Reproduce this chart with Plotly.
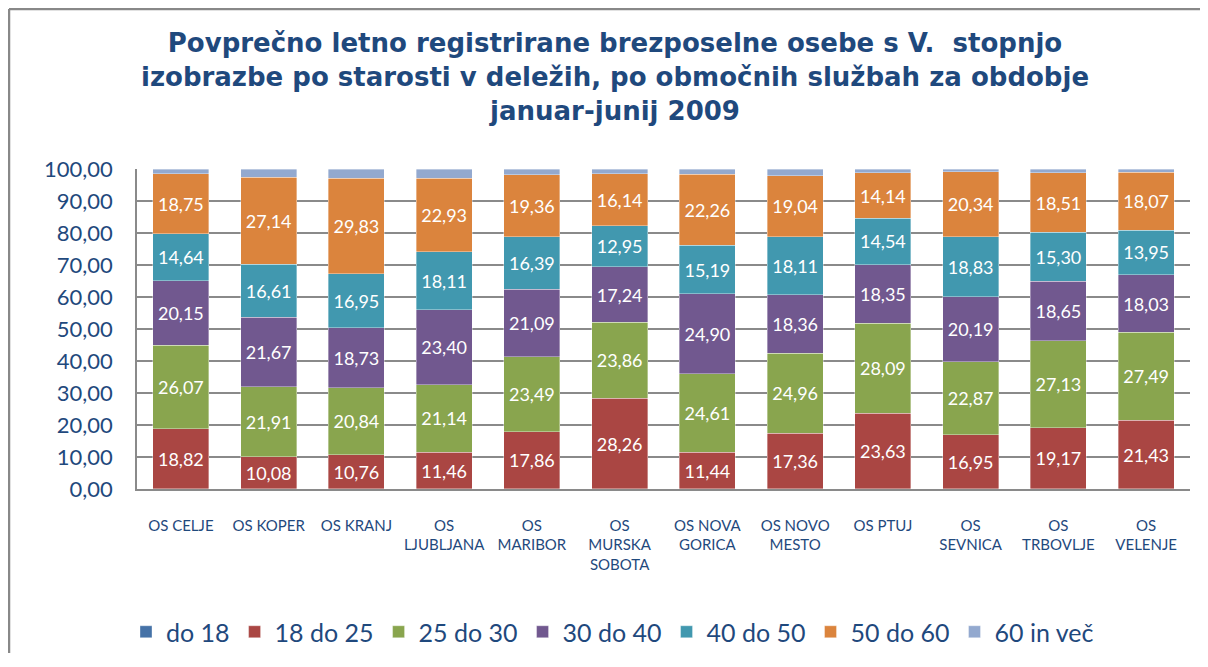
import plotly.graph_objects as go

categories = ["OS CELJE", "OS KOPER", "OS KRANJ", "OS<br>LJUBLJANA", "OS<br>MARIBOR",
              "OS<br>MURSKA<br>SOBOTA", "OS NOVA<br>GORICA", "OS NOVO<br>MESTO", "OS PTUJ",
              "OS<br>SEVNICA", "OS<br>TRBOVLJE", "OS<br>VELENJE"]

do_18 = [0.03, 0.02, 0.02, 0.03, 0.03, 0.03, 0.02, 0.03, 0.02, 0.02, 0.02, 0.02]
s18_25 = [18.82, 10.08, 10.76, 11.46, 17.86, 28.26, 11.44, 17.36, 23.63, 16.95, 19.17, 21.43]
s25_30 = [26.07, 21.91, 20.84, 21.14, 23.49, 23.86, 24.61, 24.96, 28.09, 22.87, 27.13, 27.49]
s30_40 = [20.15, 21.67, 18.73, 23.40, 21.09, 17.24, 24.90, 18.36, 18.35, 20.19, 18.65, 18.03]
s40_50 = [14.64, 16.61, 16.95, 18.11, 16.39, 12.95, 15.19, 18.11, 14.54, 18.83, 15.30, 13.95]
s50_60 = [18.75, 27.14, 29.83, 22.93, 19.36, 16.14, 22.26, 19.04, 14.14, 20.34, 18.51, 18.07]
s60_plus = [1.54, 2.57, 2.87, 2.93, 1.78, 1.52, 1.58, 2.14, 1.23, 0.80, 1.22, 1.01]

series = [
    ("do 18", do_18, "#4572A7", False),
    ("18 do 25", s18_25, "#AA4643", True),
    ("25 do 30", s25_30, "#89A54E", True),
    ("30 do 40", s30_40, "#71588F", True),
    ("40 do 50", s40_50, "#4198AF", True),
    ("50 do 60", s50_60, "#DB843D", True),
    ("60 in več", s60_plus, "#93A9CF", False),
]

BLUE = "#1F497D"
GRID = "#8A8A8A"
FONT = "Lato"

fig = go.Figure()
for name, vals, color, lab in series:
    fig.add_trace(go.Bar(
        name=name, x=categories, y=vals,
        marker=dict(color=color, line=dict(color="rgba(255,255,255,0.45)", width=0.8)),
        texttemplate="%{y:.2f}" if lab else None,
        textposition="inside" if lab else "none",
        insidetextanchor="middle",
        textfont=dict(family=FONT, size=18, color="white"),
        hoverinfo="name+y",
    ))

# page body offset is 8px; plot area on screen: left 137, right 1190, top 169, bottom 489
W, H = 1192, 645
fig.update_layout(
    width=W, height=H,
    barmode="stack",
    bargap=0.36,
    separators=",.",
    paper_bgcolor="white",
    plot_bgcolor="white",
    margin=dict(l=129, r=10, t=161, b=164, autoexpand=False),
    uniformtext=dict(minsize=18, mode="show"),
    title=dict(
        text="<b>Povprečno letno registrirane brezposelne osebe s V.  stopnjo<br>"
             "izobrazbe po starosti v deležih, po območnih službah za obdobje<br>"
             "januar-junij 2009</b>",
        font=dict(family="DejaVu Sans", size=26, color=BLUE),
        x=607 / W, xanchor="center", xref="container",
        y=1 - 44 / H, yanchor="top", yref="container",
    ),
    font=dict(family=FONT, color=BLUE),
    legend=dict(
        orientation="h",
        x=(118 - 129) / 1053, xanchor="left",
        y=(481 - 624) / 320, yanchor="middle",
        font=dict(family=FONT, size=25, color=BLUE),
        traceorder="normal",
        itemwidth=30,
        bgcolor="rgba(0,0,0,0)",
    ),
    showlegend=True,
)

fig.update_yaxes(
    range=[0, 100], dtick=10, tickformat=".2f",
    showgrid=True, gridcolor=GRID, gridwidth=1.5,
    showline=True, linecolor=GRID, linewidth=1.5,
    zeroline=False,
    tickfont=dict(family=FONT, size=22, color=BLUE),
    ticks="", ticklabelstandoff=18,
)
fig.update_xaxes(
    showline=True, linecolor=GRID, linewidth=1.5,
    showgrid=False, ticks="",
    tickfont=dict(family=FONT, size=15, color=BLUE),
    ticklabelstandoff=22,
)

# outer chart border (left and top edges visible)
fig.add_shape(type="line", xref="paper", yref="paper",
              x0=(1 - 129) / 1053, x1=(1215 - 129) / 1053,
              y0=(481 - 1) / 320, y1=(481 - 1) / 320,
              line=dict(color="#888888", width=2.5))
fig.add_shape(type="line", xref="paper", yref="paper",
              x0=(1 - 129) / 1053, x1=(1 - 129) / 1053,
              y0=(481 - 1) / 320, y1=(481 - 680) / 320,
              line=dict(color="#888888", width=2.5))

fig.write_html("out.html")
